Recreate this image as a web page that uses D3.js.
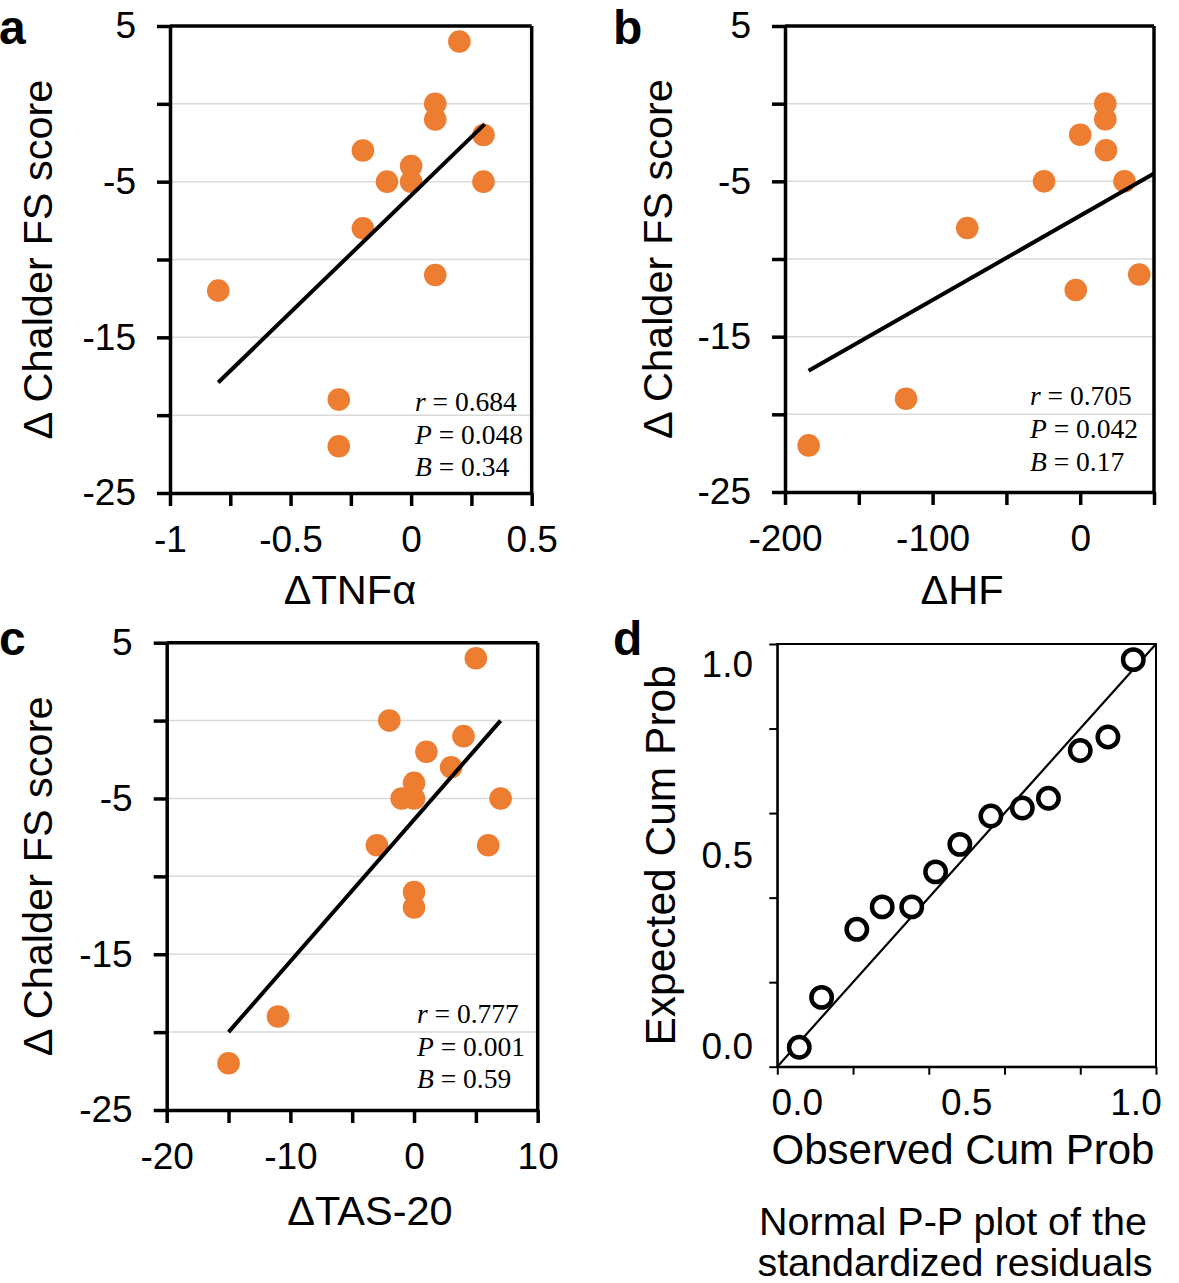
<!DOCTYPE html>
<html><head><meta charset="utf-8">
<script src="https://cdn.jsdelivr.net/npm/d3@7"></script>
<style>
body{margin:0;background:#fff}
svg{display:block}
text{font-family:"Liberation Sans",Arial,Helvetica,sans-serif;fill:#000}
</style></head>
<body><svg id="chart" width="1179" height="1283"></svg>
<script>
// ---------- data ----------
const yTicks = [5, 0, -5, -10, -15, -20, -25];
const yTickLabels = [5, -5, -15, -25];

// panel a: ΔTNFα vs Δ Chalder FS score
const tnfX = [0.2, 0.1, 0.1, 0.3, -0.2, 0, -0.1, 0, 0.3, -0.2, 0.1, -0.8, -0.3, -0.3];
const tnfY = [4, 0, -1, -2, -3, -4, -5, -5, -5, -8, -11, -12, -19, -22];
const tnfFitX = [-0.8, 0.305];
const tnfFitY = [-17.9, -1.3];
const tnfTicks = [-1, -0.75, -0.5, -0.25, 0, 0.25, 0.5];
const tnfTickLabels = [-1, -0.5, 0, 0.5];
const tnfStats = [["r", "0.684"], ["P", "0.048"], ["B", "0.34"]];

// panel b: ΔHF vs Δ Chalder FS score
const hfX = [17, 17, 0, 17.5, -24.5, 30, -76.5, -3, 40, -118, -184];
const hfY = [0, -1, -2, -3, -5, -5, -8, -12, -11, -19, -22];
const hfFitX = [-184, 50];
const hfFitY = [-17.2, -4.5];
const hfTicks = [-200, -150, -100, -50, 0, 50];
const hfTickLabels = [-200, -100, 0];
const hfStats = [["r", "0.705"], ["P", "0.042"], ["B", "0.17"]];

// panel c: ΔTAS-20 vs Δ Chalder FS score
const tasX = [5, -2, 4, 1, 3, 0, -1, 0, 7, -3, 6, 0, 0, -11, -15];
const tasY = [4, 0, -1, -2, -3, -4, -5, -5, -5, -8, -8, -11, -12, -19, -22];
const tasFitX = [-15, 7];
const tasFitY = [-20, 0];
const tasTicks = [-20, -15, -10, -5, 0, 5, 10];
const tasTickLabels = [-20, -10, 0, 10];
const tasStats = [["r", "0.777"], ["P", "0.001"], ["B", "0.59"]];

// panel d: Normal P-P plot of the standardized residuals
const ppObserved = [0.058, 0.117, 0.210, 0.277, 0.355, 0.418, 0.482, 0.564, 0.647, 0.716, 0.800, 0.873, 0.940];
const ppExpected = [0.046, 0.164, 0.325, 0.378, 0.378, 0.461, 0.526, 0.593, 0.612, 0.635, 0.748, 0.780, 0.963];
const ppTicks = [0, 0.2, 0.4, 0.6, 0.8, 1.0];
const ppTickLabels = [0, 0.5, 1.0];
const ppRef = [0, 1];

// ---------- drawing ----------
const svg = d3.select("#chart");
const ORANGE = "#ED7D31";
const TICK_FS = 37, TITLE_FS = 41.5, LETTER_FS = 48;

function scatter(o) {
  const x = d3.scaleLinear().domain(o.xDomain).range([o.l, o.r]);
  const y = d3.scaleLinear().domain([-25, 5]).range([o.b, o.t]);
  const g = svg.append("g");

  g.selectAll("line.grid").data(yTicks.filter(v => v > -25 && v < 5)).join("line")
    .attr("x1", o.l).attr("x2", o.r).attr("y1", d => y(d)).attr("y2", d => y(d))
    .attr("stroke", "#d9d9d9").attr("stroke-width", 1.5);

  // frame top & right
  g.append("line").attr("x1", o.l).attr("x2", o.r).attr("y1", o.t).attr("y2", o.t)
    .attr("stroke", "#000").attr("stroke-width", 3.5);
  g.append("line").attr("x1", o.r).attr("x2", o.r).attr("y1", o.t).attr("y2", o.b)
    .attr("stroke", "#000").attr("stroke-width", 3.5);

  const ay = g.append("g").attr("transform", `translate(${o.l},0)`)
    .call(d3.axisLeft(y).tickValues(yTicks).tickSize(13).tickSizeOuter(0).tickPadding(21)
      .tickFormat(d => yTickLabels.includes(d) ? String(d) : ""));
  const ax = g.append("g").attr("transform", `translate(0,${o.b})`)
    .call(d3.axisBottom(x).tickValues(o.xTicks).tickSize(13).tickSizeOuter(0).tickPadding(20)
      .tickFormat(d => o.xLabels.includes(d) ? String(d) : ""));
  [ax, ay].forEach(a => {
    a.select(".domain").attr("stroke", "#000").attr("stroke-width", 3.5);
    a.selectAll(".tick line").attr("stroke", "#000").attr("stroke-width", 3.5);
    a.selectAll(".tick text").attr("font-size", TICK_FS)
      .attr("font-family", '"Liberation Sans",Arial,sans-serif').attr("fill", "#000");
  });

  g.selectAll("circle").data(o.xs.map((v, i) => [v, o.ys[i]])).join("circle")
    .attr("cx", d => x(d[0])).attr("cy", d => y(d[1])).attr("r", 11.3).attr("fill", ORANGE);

  g.append("line").attr("x1", x(o.fitX[0])).attr("x2", x(o.fitX[1]))
    .attr("y1", y(o.fitY[0])).attr("y2", y(o.fitY[1]))
    .attr("stroke", "#000").attr("stroke-width", 4);

  o.stats.forEach((s, i) => {
    const t = g.append("text").attr("x", o.statX).attr("y", o.statY + i * o.statDy)
      .attr("font-size", 27.5).style("font-family", '"Liberation Serif","Times New Roman",serif');
    t.append("tspan").attr("font-style", "italic").text(s[0]);
    t.append("tspan").text(" = " + s[1]);
  });

  g.append("text").attr("transform", `translate(${o.yTitleX},${(o.t + o.b) / 2}) rotate(-90)`)
    .attr("text-anchor", "middle").attr("font-size", TITLE_FS).text("\u0394 Chalder FS score");
  g.append("text").attr("x", o.xTitleX).attr("y", o.xTitleY).attr("text-anchor", "middle")
    .attr("font-size", TITLE_FS).text(o.xTitle);

  svg.append("text").attr("x", o.letterX).attr("y", o.letterY).attr("font-size", LETTER_FS)
    .attr("font-weight", "bold").text(o.letter);
}

scatter({letter: "a", letterX: -1, letterY: 44, l: 170, r: 531.7, t: 26, b: 493,
  xDomain: [-1, 0.5], xTicks: tnfTicks, xLabels: tnfTickLabels, xs: tnfX, ys: tnfY,
  fitX: tnfFitX, fitY: tnfFitY, stats: tnfStats, statX: 415, statY: 411, statDy: 32.5,
  yTitleX: 52, xTitle: "\u0394TNF\u03B1", xTitleX: 350, xTitleY: 604});

scatter({letter: "b", letterX: 613, letterY: 44, l: 785, r: 1154, t: 26, b: 492,
  xDomain: [-200, 50], xTicks: hfTicks, xLabels: hfTickLabels, xs: hfX, ys: hfY,
  fitX: hfFitX, fitY: hfFitY, stats: hfStats, statX: 1030, statY: 405, statDy: 33,
  yTitleX: 672, xTitle: "\u0394HF", xTitleX: 962, xTitleY: 604});

scatter({letter: "c", letterX: -1, letterY: 655, l: 166.7, r: 537.7, t: 642.7, b: 1110,
  xDomain: [-20, 10], xTicks: tasTicks, xLabels: tasTickLabels, xs: tasX, ys: tasY,
  fitX: tasFitX, fitY: tasFitY, stats: tasStats, statX: 417, statY: 1023, statDy: 32.5,
  yTitleX: 52, xTitle: "\u0394TAS-20", xTitleX: 370, xTitleY: 1225});

// panel d
(function () {
  const o = {l: 777.3, r: 1156, t: 644, b: 1066.7};
  const x = d3.scaleLinear().domain([0, 1]).range([o.l, o.r]);
  const y = d3.scaleLinear().domain([0, 1]).range([o.b, o.t]);
  const g = svg.append("g");
  g.append("rect").attr("x", o.l).attr("y", o.t).attr("width", o.r - o.l).attr("height", o.b - o.t)
    .attr("fill", "none").attr("stroke", "#000").attr("stroke-width", 2);
  const ax = g.append("g").attr("transform", `translate(0,${o.b})`)
    .call(d3.axisBottom(x).tickValues(ppTicks).tickSize(8).tickSizeOuter(0).tickFormat(""));
  const ay = g.append("g").attr("transform", `translate(${o.l},0)`)
    .call(d3.axisLeft(y).tickValues(ppTicks).tickSize(8).tickSizeOuter(0).tickFormat(""));
  [ax, ay].forEach(a => {
    a.select(".domain").attr("stroke", "#000").attr("stroke-width", 2);
    a.selectAll(".tick line").attr("stroke", "#000").attr("stroke-width", 2);
  });
  const shift = v => (v === 0 ? 1 : v === 1 ? -1 : 0);
  g.selectAll("text.xl").data(ppTickLabels).join("text").attr("class", "xl")
    .attr("x", d => x(d) + shift(d) * 20).attr("y", 1115).attr("text-anchor", "middle")
    .attr("font-size", TICK_FS).text(d => d.toFixed(1));
  g.selectAll("text.yl").data(ppTickLabels).join("text").attr("class", "yl")
    .attr("x", 753).attr("y", d => y(d) - shift(d) * 20 + 12.5).attr("text-anchor", "end")
    .attr("font-size", TICK_FS).text(d => d.toFixed(1));

  g.append("line").attr("x1", x(ppRef[0])).attr("y1", y(ppRef[0]))
    .attr("x2", x(ppRef[1])).attr("y2", y(ppRef[1])).attr("stroke", "#000").attr("stroke-width", 2.2);

  g.selectAll("circle").data(ppObserved.map((v, i) => [v, ppExpected[i]])).join("circle")
    .attr("cx", d => x(d[0])).attr("cy", d => y(d[1])).attr("r", 10.2)
    .attr("fill", "#fff").attr("stroke", "#000").attr("stroke-width", 4.5);

  g.append("text").attr("transform", `translate(675,${(o.t + o.b) / 2}) rotate(-90)`)
    .attr("text-anchor", "middle").attr("font-size", 42.5).text("Expected Cum Prob");
  g.append("text").attr("x", 963).attr("y", 1164).attr("text-anchor", "middle")
    .attr("font-size", 42).text("Observed Cum Prob");
  g.append("text").attr("x", 953).attr("y", 1235).attr("text-anchor", "middle")
    .attr("font-size", 39.5).text("Normal P-P plot of the");
  g.append("text").attr("x", 955).attr("y", 1276).attr("text-anchor", "middle")
    .attr("font-size", 39.5).text("standardized residuals");
  svg.append("text").attr("x", 613).attr("y", 655).attr("font-size", LETTER_FS)
    .attr("font-weight", "bold").text("d");
})();
</script></body></html>
